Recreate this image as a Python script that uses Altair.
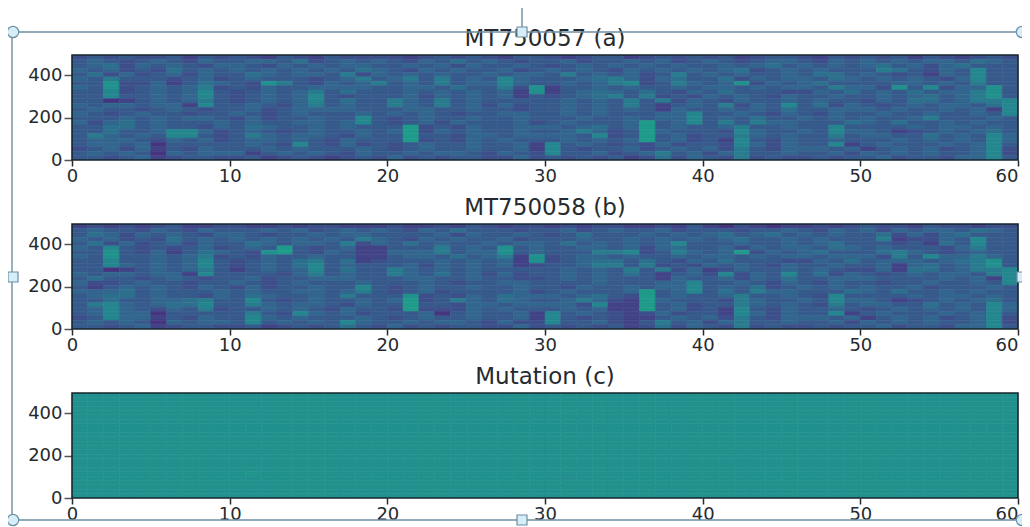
import altair as alt
import pandas as pd

# Heat-map levels: one string per row, top row first, 60 columns.
rows_a = [
"2323223132 3213213222 2123232133 2123312323 2312332132 3231321232",
"3432343243 3443523434 3243534323 3423343423 4323443243 4343443543",
"3452434324 4324343443 3434243343 2343434343 3434534343 4534245333",
"4342325343 4343434354 3243433423 4343243434 3452343433 3653243733",
"3524234243 3543443624 3434334344 3634342363 4343343553 4323143733",
"4363332342 3433323463 4636343743 3345642453 3524344354 3434324733",
"3382241354 3286324346 3436344743 3434672364 3482434533 3344343633",
"4382343462 3243344443 3443533628 1334343343 4434344364 4283724483",
"3372343473 2343463533 3434343418 1345435324 3533322435 3435344683",
"3373343473 2343473233 3424343413 2345636232 4343243343 3434534683",
"3301343463 2343473533 6436343333 3434363624 3243343433 2435534667",
"4344344173 3432463433 6436342423 3434363134 3624373524 3234344357",
"3433234323 3423444433 3443343323 3434343143 3434353344 4343343417",
"4323433233 4323433343 4343233443 3434333447 3343243243 3433433437",
"3334343443 2423343373 2343343343 3343343447 3435334343 4334633343",
"4245343334 3433443473 2342433342 3433349347 3636443335 4353343433",
"3355343324 3543343433 3923243344 4345349343 3463343373 3334344343",
"3353347742 3432343343 4924343343 3464239433 3274334374 4312343453",
"3643437732 3643443243 3933244344 4437239342 3364343363 4433534374",
"3444324342 3443432433 3923243433 3434349342 3173243343 3343434374",
"3443403333 3432732423 2343343341 7343232423 3274243371 3433343473",
"2342413243 3343433343 2343343341 7323342343 4263244434 1343423472",
"3434304344 4134343243 3434432432 7334234634 2463343342 4343433472",
"3323412332 2312321232 4232332242 3232312524 3262322323 3423324473",
]
rows_b = [
"1212123112 2112122111 2112132122 1212211213 1021011212 3221322122",
"3433243243 3343423434 3243533323 3423433423 3323343243 4243443543",
"3542434324 4323343443 3334243343 2353334343 4534534343 3524245333",
"4342325343 4343434364 3243433423 3343343434 3453343433 3612243733",
"3524234243 3543443624 3534334344 3534343473 3343343453 3323153733",
"4373232342 3439323411 3336343834 3344342453 3424344354 3433324633",
"3383241354 3289324311 4446344834 3336672364 3492434533 3564323433",
"4383343462 3243343311 3443534618 2344343343 4434344344 4263744643",
"3373343473 2343563512 3334343418 2345535324 3533322435 3444345683",
"3374343473 2343573433 3424343412 3346636232 4343243343 3414534683",
"3301343463 1343473533 6434343333 3434363624 1243343432 2415534667",
"4344344173 3332463433 6435342423 3434353134 2724373524 3234344367",
"3533234323 3423344433 3443343322 3434333143 3424353344 4333343417",
"4223433233 4323433343 3343233443 3334333447 3343243243 3233433437",
"3134343243 2423343373 2343343343 3243343447 3435234343 4334233343",
"4445343334 3433443463 2342333342 3433349347 3536443335 4353343433",
"3455343324 3543343633 3823243544 4345329343 3463343273 3334344343",
"3353344563 3732343343 4923643543 3464219433 3264334374 4312343453",
"3674345573 3643443243 3933244344 4427119342 3364343263 4433534374",
"3474324362 3343432433 2922243433 3434119342 3173243343 2343434374",
"3474403333 3632743423 3340343341 7343212423 3174243371 3433343473",
"2374413243 3743433343 2343343341 7323211343 4263244434 1343423472",
"3434304344 3734343743 3434432422 7334213634 2463343342 4343433472",
"3323412332 2312323532 4232332242 3232312524 3262322323 3423324473",
]
# Panel (c) is one flat level apart from a few faint cells: (column, row, level).
flat_level = 8
faint_c = [(11, 18, 8.7), (31, 4, 8.1), (31, 19, 7.8), (42, 15, 7.85)]

titles = ["MT750057 (a)", "MT750058 (b)", "Mutation (c)"]
x_ticks = [0, 10, 20, 30, 40, 50, 60]
y_ticks = [0, 200, 400]
y_top = 496
n_cols = 60
n_rows = 24


def frame(rows):
    step = y_top / len(rows)
    recs = []
    for r, row in enumerate(rows):
        vals = row if isinstance(row, list) else [int(c) for c in row.replace(" ", "")]
        for c, v in enumerate(vals):
            recs.append({"c0": c, "c1": c + 1, "r0": y_top - (r + 1) * step, "r1": y_top - r * step, "v": v})
    return pd.DataFrame(recs)


rows_c = [[flat_level] * n_cols for _ in range(n_rows)]
for c, r, v in faint_c:
    rows_c[r][c] = v

W, H = 946, 105
INK = "#262a2e"
color_scale = alt.Scale(scheme="viridis", domain=[-3.4, 19.4])
one = alt.InlineData(values=[{"k": 1}])


def heat(rows):
    return alt.Chart(frame(rows)).mark_rect(strokeWidth=0.6, clip=True).encode(
        x=alt.X("c0:Q", scale=alt.Scale(domain=[0, 60], nice=False),
                axis=alt.Axis(values=x_ticks, title=None, grid=False, domain=False, labelFlush=False,
                              tickSize=6, tickColor=INK, tickWidth=1.5, labelPadding=1,
                              labelAlign=alt.expr("datum.value == 60 ? 'right' : 'center'"),
                              labelFontSize=18, labelColor=INK, labelFont="DejaVu Sans", format="d")),
        x2="c1:Q",
        y=alt.Y("r0:Q", scale=alt.Scale(domain=[0, y_top], nice=False),
                axis=alt.Axis(values=y_ticks, title=None, grid=False, domain=False,
                              tickSize=8, tickColor="#555", tickWidth=1.5, labelPadding=2,
                              labelFontSize=18, labelColor=INK, labelFont="DejaVu Sans", format="d")),
        y2="r1:Q",
        color=alt.Color("v:Q", scale=color_scale, legend=None),
        stroke=alt.Stroke("v:Q", scale=color_scale, legend=None),
    )


def border():
    return alt.Chart(one).mark_rect(fillOpacity=0, stroke="#16242c", strokeWidth=1.6).encode(
        x=alt.value(0), x2=alt.value(W), y=alt.value(0), y2=alt.value(H))


def title_mark(title):
    return alt.Chart(one).mark_text(text=title, fontSize=23, font="DejaVu Sans", color=INK,
                                    align="center", baseline="alphabetic").encode(
        x=alt.value(W / 2), y=alt.value(-9))


def panel(rows, title, extra=()):
    return alt.layer(heat(rows), border(), title_mark(title), *extra).properties(width=W, height=H)


# Selection frame of the slide object, drawn over the figure. Positions are relative to panel (c)'s origin.
ox, oy = 72, 393
LINE = "#6f8ea3"
FILL = "#d6eef8"
right_edge = 1022


def seg(x0, y0, x1, y1):
    return alt.Chart(one).mark_rule(color=LINE, strokeWidth=1.4).encode(
        x=alt.value(x0 - ox), x2=alt.value(x1 - ox), y=alt.value(y0 - oy), y2=alt.value(y1 - oy))


def handle(x, y, shape, size):
    return alt.Chart(one).mark_point(shape=shape, size=size, filled=True, fill=FILL, stroke=LINE,
                                     strokeWidth=1.2, opacity=1).encode(
        x=alt.value(x - ox), y=alt.value(y - oy))


overlay = [
    seg(12, 32, right_edge, 32), seg(12, 32, 12, 520), seg(12, 520, right_edge, 520), seg(522, 0, 522, 32),
    handle(13, 32, "circle", 130), handle(right_edge, 32, "circle", 130), handle(13, 520, "circle", 130),
    handle(right_edge, 520, "circle", 130),
    handle(522, 32, "square", 100), handle(13, 277, "square", 100), handle(right_edge, 277, "square", 100),
    handle(522, 520, "square", 100),
]

chart = alt.vconcat(
    panel(rows_a, titles[0]),
    panel(rows_b, titles[1]),
    panel(rows_c, titles[2], overlay),
    spacing=64,
    bounds="flush",
).properties(
    autosize=alt.AutoSizeParams(type="none"),
    padding={"left": 64, "top": 47, "right": 4, "bottom": 472},
    background="white",
).configure_view(stroke=None)

chart.save("out.html", embed_options={"renderer": "svg", "actions": False})
